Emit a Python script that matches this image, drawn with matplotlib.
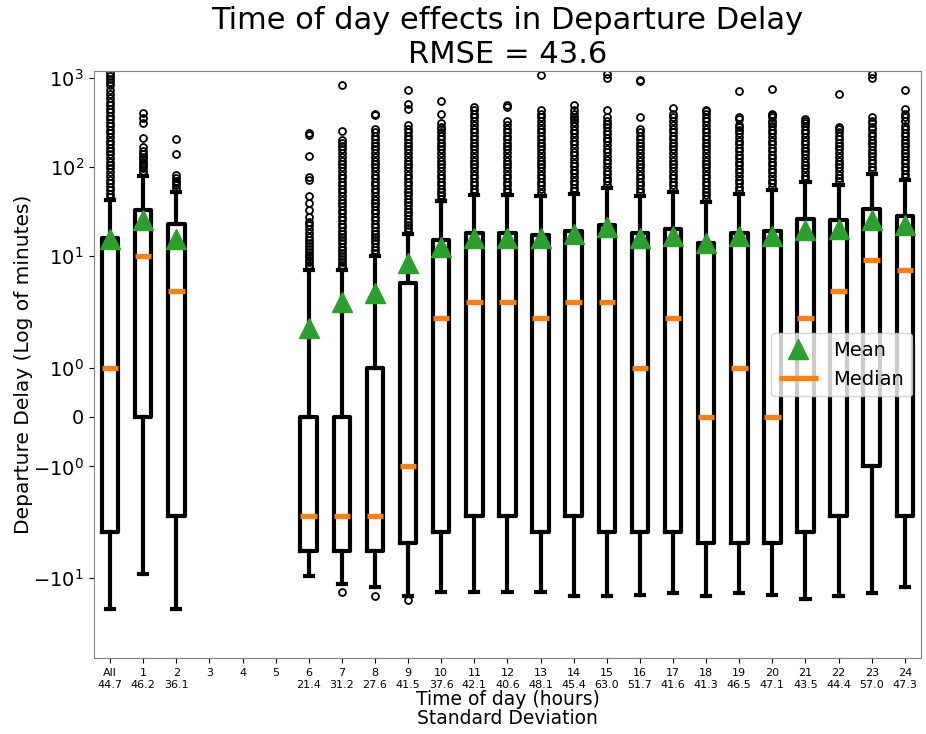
import matplotlib.pyplot as plt

# hours on the x axis, 'All' is every flight together
hours = ['All', '1', '2', '3', '4', '5', '6', '7', '8', '9', '10', '11', '12',
         '13', '14', '15', '16', '17', '18', '19', '20', '21', '22', '23', '24']
std_dev = ['44.7', '46.2', '36.1', '', '', '', '21.4', '31.2', '27.6', '41.5',
           '37.6', '42.1', '40.6', '48.1', '45.4', '63.0', '51.7', '41.6', '41.3',
           '46.5', '47.1', '43.5', '44.4', '57.0', '47.3']

# box statistics (minutes), None where there were no flights
q1 = [-3, 0, -2, None, None, None, -5, -5, -5, -4, -3, -2, -2, -3, -2, -3,
      -3, -3, -4, -4, -4, -3, -2, -1, -2]
median = [1, 10, 4, None, None, None, -2, -2, -2, -1, 2, 3, 3, 2, 3, 3,
          1, 2, 0, 1, 0, 2, 4, 9, 7]
q3 = [16, 33, 23, None, None, None, 0, 0, 1, 5, 15, 18, 18, 17, 19, 22,
      18, 20, 14, 18, 19, 26, 25, 34, 28]
whis_lo = [-22, -9, -22, None, None, None, -9.6, -11.8, -12.7, -16, -14.4, -14.4, -14.4,
           -14.4, -16, -16, -15.5, -14.6, -16, -14.6, -15.5, -17, -16, -14.6, -12.7]
whis_hi = [43, 80, 52, None, None, None, 7, 7, 10, 17.7, 41, 48, 48, 47, 49, 58,
           47.6, 52, 40, 50, 55, 67, 63, 84, 71]
mean = [15.5, 25, 15.5, None, None, None, 1.8, 3.0, 3.8, 8.4, 12.7, 16, 15.7, 16, 17.7, 21,
        15.7, 16.8, 13.8, 16.8, 16.8, 19.4, 20, 25, 22]

fliers = [
    [46, 50, 55, 60, 66, 72, 80, 88, 96, 105, 115, 126, 138, 151, 165, 181, 198, 217,
     238, 260, 285, 312, 342, 375, 410, 450, 500, 540, 590, 668, 723, 830, 891, 980, 1060, 1125],
    [85, 90, 96, 102, 108, 115, 122, 130, 138, 150, 166, 214, 309, 351, 399],
    [58, 62, 66, 70, 75, 82, 138, 204],
    [], [], [],
    [7.5, 8, 8.5, 9, 9.6, 10.3, 11, 12, 13, 14, 15, 16.5, 18, 20, 22, 24, 27.7, 32.4,
     39.4, 47, 72, 77, 134, 231, 243],
    [-14.5, 7.5, 8, 8.6, 9.2, 10, 10.8, 11.7, 12.7, 13.8, 15, 16.3, 17.7, 19.2, 21, 23, 25,
     27.5, 30, 33, 36, 39, 43, 47, 52, 57, 62, 68, 75, 82, 90, 99, 108, 118, 130, 143,
     157, 172, 188, 199, 255, 838],
    [-15.9, 10.8, 11.7, 12.7, 13.8, 15, 16.3, 17.7, 19.2, 21, 23, 25, 27.5, 30, 33, 36,
     39, 43, 47, 52, 57, 62, 68, 75, 82, 90, 99, 108, 118, 130, 143, 157, 172, 188, 205,
     225, 245, 269, 380, 398],
    [-17.5, 19, 20.5, 22, 24, 26, 28.5, 31, 34, 37, 40, 44, 48, 52, 57, 62, 68, 75, 82,
     90, 99, 108, 118, 130, 143, 157, 172, 188, 205, 225, 245, 270, 296, 448, 513, 723],
    [44, 48, 52, 57, 62, 68, 75, 82, 90, 99, 108, 118, 130, 143, 157, 172, 188, 205, 225,
     245, 265, 282, 311, 398, 550],
    [52, 57, 62, 68, 75, 82, 90, 99, 108, 118, 130, 143, 157, 172, 188, 205, 225, 245,
     270, 296, 325, 361, 398, 440, 477],
    [52, 57, 62, 68, 75, 82, 90, 99, 108, 118, 130, 143, 157, 172, 188, 205, 225, 245,
     270, 296, 327, 477, 496],
    [51, 56, 62, 68, 75, 82, 90, 99, 108, 118, 130, 143, 157, 172, 188, 205, 225, 245,
     270, 296, 325, 361, 398, 440, 1071],
    [53, 58, 64, 70, 77, 85, 93, 102, 112, 123, 135, 148, 163, 179, 197, 216, 238, 262,
     288, 316, 345, 361, 398, 440, 496],
    [63, 69, 76, 83, 91, 100, 110, 121, 133, 146, 160, 176, 193, 212, 233, 256, 281, 300,
     327, 361, 440, 1010, 1110],
    [52, 57, 62, 68, 75, 82, 90, 99, 108, 118, 130, 143, 157, 172, 188, 205, 225, 245,
     269, 361, 925, 953],
    [57, 62, 68, 75, 82, 90, 99, 108, 118, 130, 143, 157, 172, 188, 205, 225, 245, 270,
     296, 327, 361, 398, 462],
    [44, 48, 52, 57, 62, 68, 75, 82, 90, 99, 108, 118, 130, 143, 157, 172, 188, 205, 225,
     245, 270, 296, 325, 355, 390, 420, 441],
    [55, 60, 66, 72, 79, 87, 95, 104, 114, 125, 137, 150, 165, 181, 198, 217, 238, 260,
     280, 296, 347, 361, 708],
    [60, 66, 72, 79, 87, 95, 104, 114, 125, 137, 150, 165, 181, 198, 217, 238, 260, 285,
     310, 327, 361, 380, 398, 759],
    [73, 80, 88, 96, 105, 115, 126, 138, 151, 165, 181, 198, 217, 238, 260, 285, 310,
     327, 347],
    [69, 75, 82, 90, 99, 108, 118, 130, 143, 157, 172, 188, 205, 225, 245, 265, 282, 668],
    [92, 100, 110, 120, 131, 143, 156, 170, 186, 203, 222, 242, 264, 282, 311, 327, 361,
     1010, 1110],
    [77, 84, 92, 100, 110, 120, 131, 143, 156, 170, 186, 203, 222, 243, 265, 290, 327,
     361, 398, 449, 736],
]

stats = []
positions = []
for i in range(len(hours)):
    if median[i] is None:
        continue
    stats.append({'q1': q1[i], 'med': median[i], 'q3': q3[i], 'whislo': whis_lo[i],
                  'whishi': whis_hi[i], 'mean': mean[i], 'fliers': fliers[i]})
    positions.append(i + 1)

fig = plt.figure(figsize=(9.26, 7.34), dpi=100)
ax = fig.add_subplot(111)
plt.subplots_adjust(left=0.101, right=0.995, bottom=0.103, top=0.903)

line = dict(color='black', linewidth=3.0)
res = ax.bxp(stats, positions=positions, widths=0.5, showmeans=True,
             boxprops=line, whiskerprops=line, capprops=line,
             medianprops=dict(color='tab:orange', linewidth=3.8),
             meanprops=dict(marker='^', markerfacecolor='tab:green',
                            markeredgecolor='tab:green', markersize=15),
             flierprops=dict(marker='o', markersize=5, markerfacecolor='none',
                             markeredgecolor='black', markeredgewidth=1.3))

ax.set_yscale('symlog')
ax.set_ylim(-80, 1190)
ax.yaxis.set_minor_locator(plt.NullLocator())
ax.set_xlim(0.5, 25.5)
ax.set_xticks(range(1, len(hours) + 1))
ax.set_xticklabels([h + '\n' + s for h, s in zip(hours, std_dev)], fontsize=8)
ax.tick_params(axis='y', labelsize=14)
for sp in ax.spines.values():
    sp.set_color('0.5')

ax.set_title('Time of day effects in Departure Delay\nRMSE = 43.6', fontsize=22)
ax.set_xlabel('Time of day (hours)\nStandard Deviation', fontsize=13.5,
              labelpad=0, linespacing=1.05)
ax.set_ylabel('Departure Delay (Log of minutes)', fontsize=14.5, labelpad=0)
ax.legend([res['means'][0], res['medians'][0]], ['Mean', 'Median'],
          loc='center right', fontsize=14)

plt.savefig('out.png')
